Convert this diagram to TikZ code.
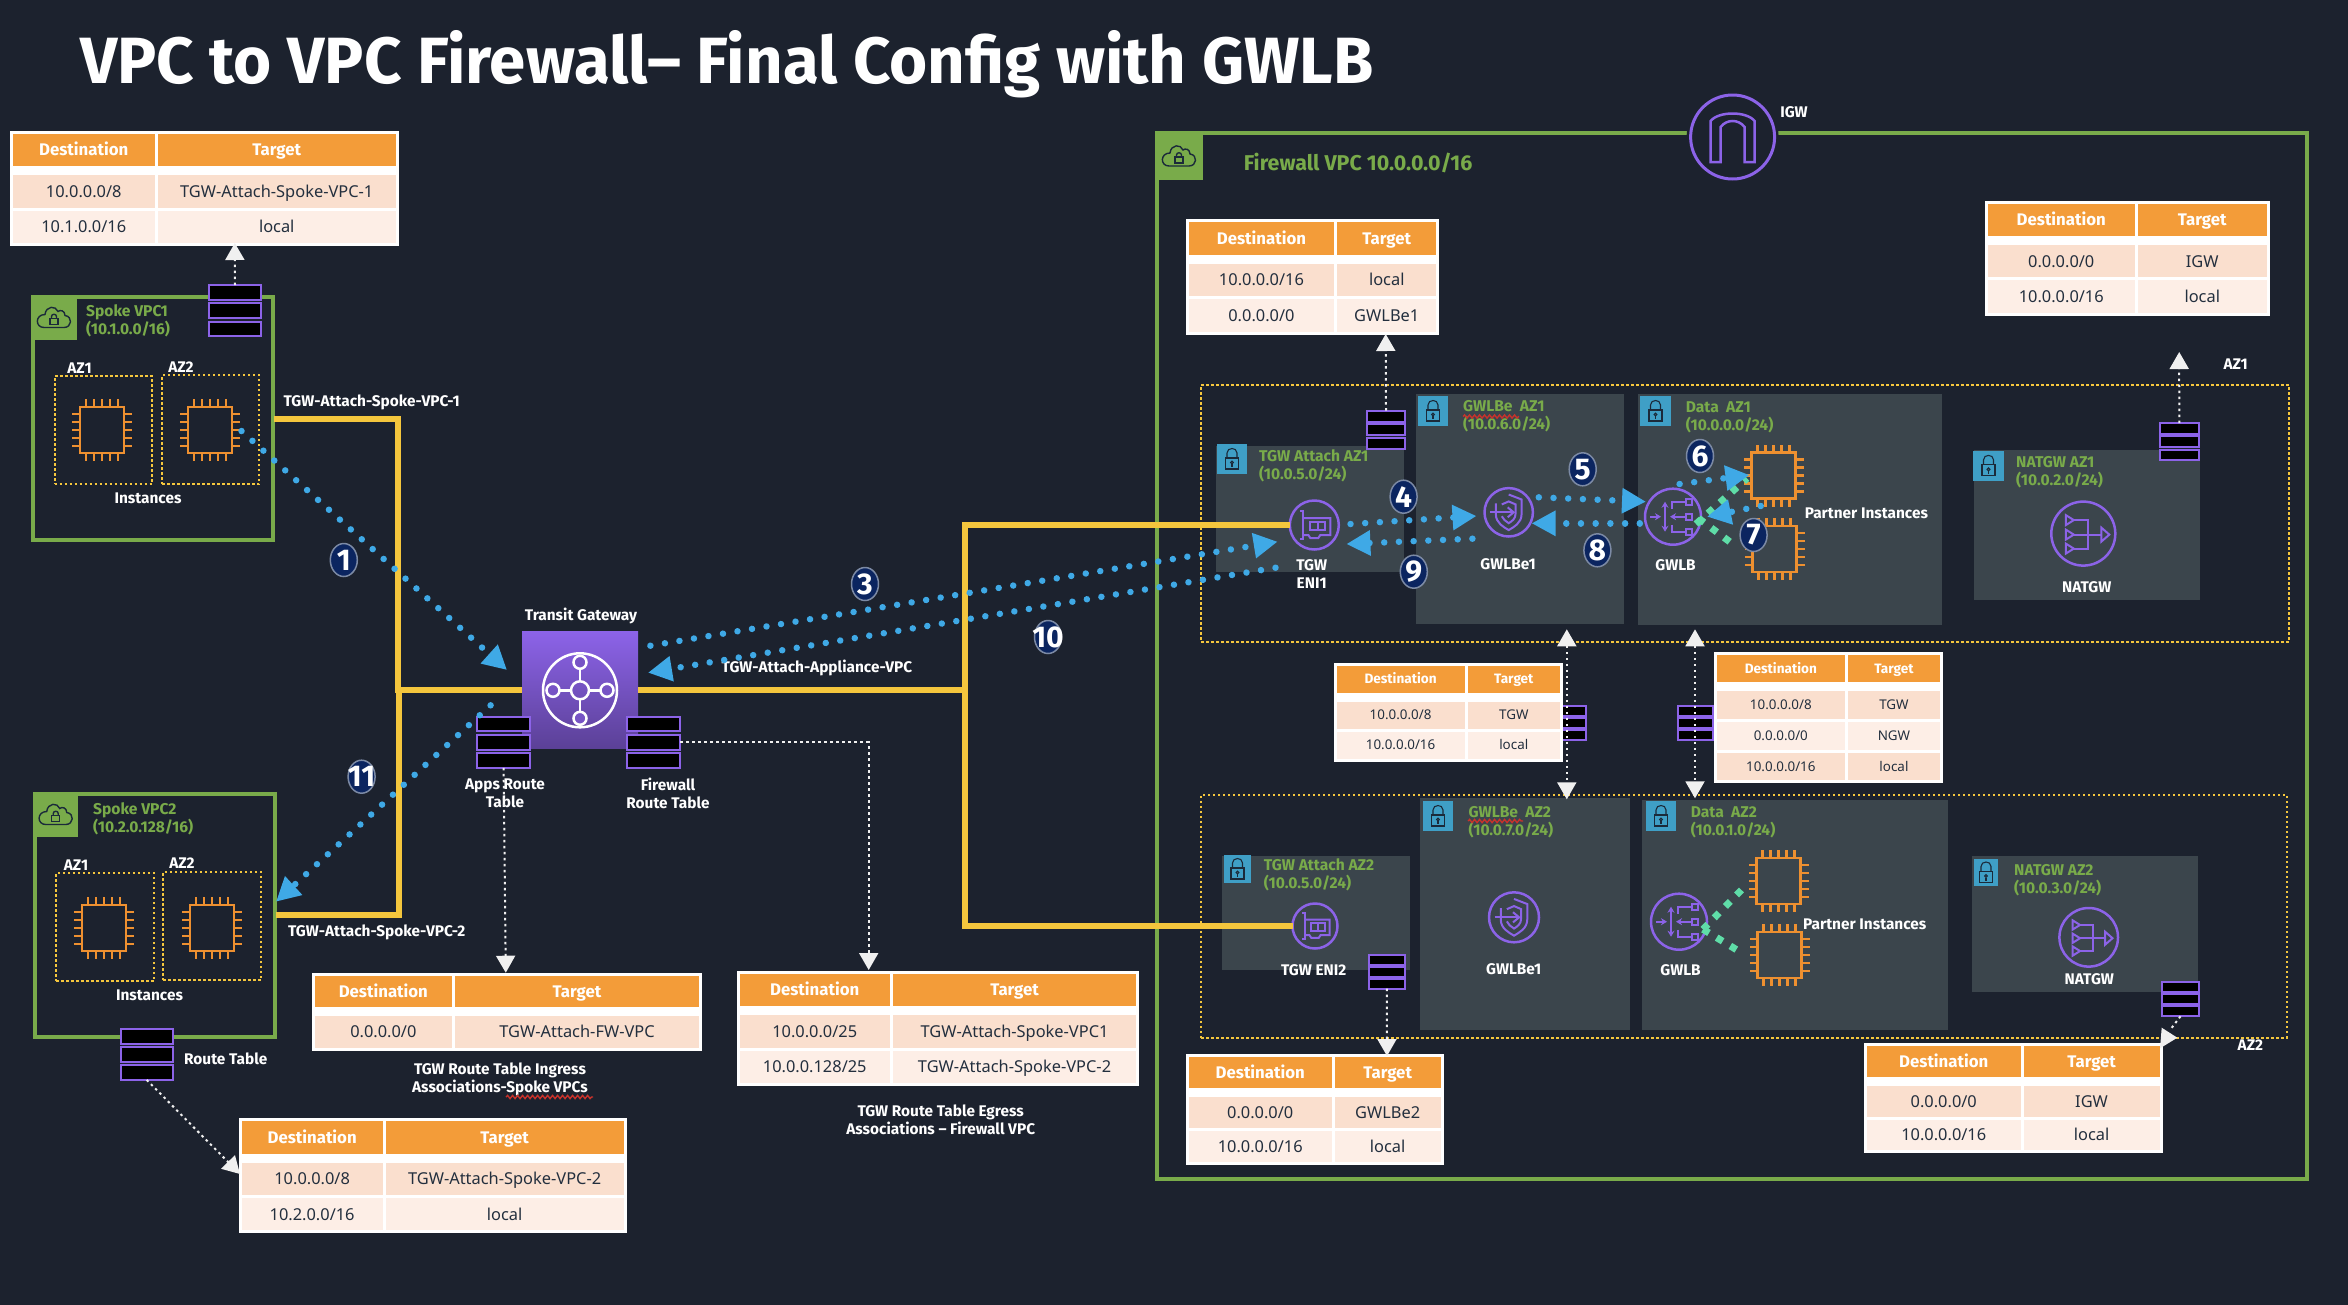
\documentclass[tikz,border=0pt]{standalone}
\usepackage{fontspec}
\setmainfont{Noto Sans}
\newfontfamily\bfam{Fira Sans}
\newcommand\bff{\bfam\bfseries}
\usetikzlibrary{arrows.meta,shapes.geometric,decorations.pathmorphing}
\definecolor{bgc}{HTML}{1C222E}
\definecolor{vpcg}{HTML}{79AB4A}
\definecolor{subg}{HTML}{3B454C}
\definecolor{lockb}{HTML}{3F9FC6}
\definecolor{lockd}{HTML}{1B2A3A}
\definecolor{purp}{HTML}{8C63E8}
\definecolor{ylw}{HTML}{F4C63D}
\definecolor{orng}{HTML}{F39C39}
\definecolor{chipo}{HTML}{EE9030}
\definecolor{rowa}{HTML}{FADFCE}
\definecolor{rowb}{HTML}{FDEEE6}
\definecolor{txt}{HTML}{232F3E}
\definecolor{blu}{HTML}{3FA9E6}
\definecolor{grn}{HTML}{5FDDA8}
\definecolor{navy}{HTML}{0B2560}
\definecolor{badgeo}{HTML}{7C8AA5}
\definecolor{wtip}{HTML}{F0F0F0}
\definecolor{redw}{HTML}{C8322B}
\tikzset{
 lbl/.style={text=white,font=\bff\fontsize{15.4}{18}\selectfont,inner sep=0pt,align=center},
 sublbl/.style={text=vpcg,font=\bff\fontsize{15.6}{18}\selectfont,inner sep=0pt,align=left,anchor=west},
 yl/.style={draw=ylw,line width=6pt},
 vpcbox/.style={draw=vpcg,line width=4pt},
 azbox/.style={draw=ylw,line width=2pt,dash pattern=on 2.5pt off 2.5pt},
 subnetbox/.style={fill=subg},
 rtbcell/.style={draw=purp,fill=black,line width=2pt},
 picon/.style={draw=purp,line width=2.5pt,circle,inner sep=0pt,outer sep=0pt},
 pline/.style={draw=purp,line width=2pt},
 chipline/.style={draw=chipo,line width=2.5pt},
 wdot/.style={draw=wtip,line width=2pt,dash pattern=on 2.5pt off 3.5pt,-{Triangle[length=17pt,width=19pt,fill=wtip]}},
 wdbl/.style={draw=wtip,line width=2pt,dash pattern=on 2.5pt off 3.5pt,{Triangle[length=17pt,width=19pt,fill=wtip]}-{Triangle[length=17pt,width=19pt,fill=wtip]}},
 wdotp/.style={draw=wtip,line width=2pt,dash pattern=on 2.5pt off 3.5pt},
 bdot/.style={draw=blu,line width=6.5pt,line cap=round,dash pattern=on 0.01pt off 14.7pt,-{Triangle[length=24pt,width=24pt,fill=blu]}},
 gdot/.style={draw=grn,line width=7pt,dash pattern=on 7pt off 9pt},
 wavy/.style={draw=redw,line width=1.4pt,decorate,decoration={snake,segment length=5pt,amplitude=1.6pt}},
 cellbase/.style={anchor=north west,inner sep=0pt,outer sep=0pt,text depth=0pt},
}
\newcommand\rnode[6]{%
 \pgfmathsetmacro\rw{#4-#2}\pgfmathsetmacro\rh{#5-#3}%
 \node[#6,minimum width=\rw pt,minimum height=\rh pt,inner sep=0pt,outer sep=0pt,anchor=north west] (#1) at (#2,#3) {};}
% table: name xl xs xr yt yb nrows regular-size bold-size
\newcommand\rtab[9]{%
 \def\tN{#1}\def\tL{#2}\def\tS{#3}\def\tRt{#4}\def\tFs{#8}%
 \rnode{#1}{#2}{#5}{#4}{#6}{fill=white}%
 \pgfmathsetmacro\tR{(#6-#5-15-(#7-1)*3)/(#7+1)}%
 \pgfmathsetmacro\wa{#3-1.5-#2-3}\pgfmathsetmacro\wb{#4-3-#3-1.5}%
 \pgfmathsetmacro\xa{#2+3}\pgfmathsetmacro\xb{#3+1.5}\pgfmathsetmacro\yh{#5+3}%
 \pgfmathsetmacro\tHh{0.69*#9}\pgfmathsetmacro\tHr{0.714*#8}%
 \node[cellbase,fill=orng,text=white,minimum width=\wa pt,minimum height=\tR pt,text height=\tHh pt,font=\bff\fontsize{#9}{#9}\selectfont] (#1h1) at (\xa,\yh) {Destination};
 \node[cellbase,fill=orng,text=white,minimum width=\wb pt,minimum height=\tR pt,text height=\tHh pt,font=\bff\fontsize{#9}{#9}\selectfont] (#1h2) at (\xb,\yh) {Target};
 \pgfmathsetmacro\tY{#5+3+\tR+9}\def\tI{1}}
\newcommand\trow[3]{%
 \node[cellbase,fill=#1,text=txt,minimum width=\wa pt,minimum height=\tR pt,text height=\tHr pt,font=\fontsize{\tFs}{\tFs}\selectfont] (\tN r\tI a) at (\xa,\tY) {#2};
 \node[cellbase,fill=#1,text=txt,minimum width=\wb pt,minimum height=\tR pt,text height=\tHr pt,font=\fontsize{\tFs}{\tFs}\selectfont] (\tN r\tI b) at (\xb,\tY) {#3};
 \pgfmathsetmacro\tY{\tY+\tR+3}\pgfmathtruncatemacro\tI{\tI+1}}
% three-cell route table icon
\newcommand\rtb[6]{%
 \pgfmathsetmacro\ra{#2+#4}\pgfmathsetmacro\rb{#3+#5}\rnode{#11}{#2}{#3}{\ra}{\rb}{rtbcell}%
 \pgfmathsetmacro\rc{#3+#6}\pgfmathsetmacro\rd{\rc+#5}\rnode{#12}{#2}{\rc}{\ra}{\rd}{rtbcell}%
 \pgfmathsetmacro\re{#3+2*#6}\pgfmathsetmacro\rf{\re+#5}\rnode{#13}{#2}{\re}{\ra}{\rf}{rtbcell}}
\newcommand\chip[3]{%
 \node[chipline,minimum width=44pt,minimum height=46pt,inner sep=0pt,outer sep=0pt] (#1) at (#2,#3) {};
 \begin{scope}[shift={(#2,#3)}]
 \foreach \d in {-16,-8,0,8,16}{
  \draw[chipline] (\d,-23)--(\d,-31); \draw[chipline] (\d,23)--(\d,31);
  \draw[chipline] (-22,\d)--(-30,\d); \draw[chipline] (22,\d)--(30,\d);}
 \end{scope}}
\newcommand\lockbox[5]{%
 \rnode{#1}{#2}{#3}{#4}{#5}{fill=lockb}%
 \begin{scope}[shift={(#1.center)},draw=lockd,line width=1.1pt]
 \draw (-6.5,-1) rectangle (6.5,10);
 \draw (-5,-1) -- (-5,-6) .. controls (-5,-12) and (5,-12) .. (5,-6) -- (5,-1);
 \draw (0,3.5) circle[radius=1.4pt]; \draw (0,5)--(0,8);
 \end{scope}}
\newcommand\cloudbox[5]{%
 \rnode{#1}{#2}{#3}{#4}{#5}{fill=vpcg}%
 \begin{scope}[shift={(#1.center)},line width=1.4pt,draw=lockd]
 \draw (-10,10) -- (10,10) .. controls (18,10) and (19,-1) .. (11,-2) .. controls (11,-7) and (6,-8) .. (4,-6) .. controls (2,-12) and (-8,-12) .. (-9,-3) .. controls (-19,-3) and (-19,10) .. (-10,10) -- cycle;
 \draw (-4,1) rectangle (4,7);
 \draw (-2.5,1) -- (-2.5,-1) .. controls (-2.5,-4) and (2.5,-4) .. (2.5,-1) -- (2.5,1);
 \end{scope}}
\newcommand\eniicon[4]{%
 \node[picon,minimum size=#4 pt] (#1) at (#2,#3) {};
 \pgfmathsetmacro\sc{#4/49}%
 \begin{scope}[shift={(#2,#3)},scale=\sc]
 \draw[pline] (-14,-14) -- (-11,-14) -- (-11,14) -- (-14,14);
 \draw[pline] (-11,-7) -- (16,-7) -- (16,10) -- (6,10) -- (4,13) -- (-4,13) -- (-6,10) -- (-11,10);
 \draw[pline] (-4,-3) rectangle (11,5); \draw[pline] (3.5,-3) -- (3.5,5);
 \end{scope}}
\newcommand\gwlbeicon[4]{%
 \node[picon,minimum size=#4 pt] (#1) at (#2,#3) {};
 \pgfmathsetmacro\sc{#4/49}%
 \begin{scope}[shift={(#2,#3)},scale=\sc]
 \draw[pline] (0,-18) -- (13,-13) -- (13,2) .. controls (13,11) and (5,15) .. (0,18) .. controls (-5,15) and (-13,11) .. (-13,2) -- (-13,-9);
 \draw[pline] (-7,-8) -- (0,-11) -- (7,-8) -- (7,1) .. controls (7,7) and (3,9) .. (0,11) .. controls (-3,9) and (-6,7) .. (-7,4);
 \draw[pline] (-19,0) -- (5,0); \draw[pline] (-1,-5) -- (5,0) -- (-1,5);
 \end{scope}}
\newcommand\gwlbicon[4]{%
 \node[picon,minimum size=#4 pt] (#1) at (#2,#3) {};
 \pgfmathsetmacro\sc{#4/56}%
 \begin{scope}[shift={(#2,#3)},scale=\sc]
 \draw[pline,-{Stealth[length=6pt,width=7pt]}] (-23,0) -- (-12,0);
 \draw[pline,{Stealth[length=6pt,width=7pt]}-{Stealth[length=6pt,width=7pt]}] (-8,-15) -- (-8,15);
 \draw[pline,-{Stealth[length=6pt,width=7pt]}] (13,0) -- (-3,0);
 \draw[pline] (-1,-8) -- (-1,-15) -- (13,-15); \draw[pline] (-1,8) -- (-1,15) -- (13,15);
 \foreach \yy in {-15,0,15}{\draw[pline] (13,\yy-3) rectangle (19,\yy+3);}
 \end{scope}}
\newcommand\natgwicon[4]{%
 \node[picon,minimum size=#4 pt] (#1) at (#2,#3) {};
 \pgfmathsetmacro\sc{#4/64}%
 \begin{scope}[shift={(#2,#3)},scale=\sc]
 \foreach \yy in {-13.5,1,15}{\draw[pline] (-17.5,\yy-5) -- (-9.5,\yy) -- (-17.5,\yy+5) -- cycle;}
 \draw[pline] (-9,-13.5) -- (5,-13.5) -- (5,15) -- (-9,15);
 \draw[pline] (-9,1) -- (18,1);
 \draw[pline] (18,-6) -- (26,1) -- (18,8) -- cycle;
 \end{scope}}
\newcommand\badge[4]{%
 \node[ellipse,draw=badgeo,fill=navy,line width=1.5pt,minimum width=27pt,minimum height=33pt,inner sep=0pt,label={[text=white,font=\bff\fontsize{30}{30}\selectfont,inner sep=0pt]center:#4}] (#1) at (#2,#3) {};}
\begin{document}
\begin{tikzpicture}[x=1pt,y=-1pt]
\useasboundingbox (0,0) rectangle (2348,1304);
\fill[bgc] (-6,-6) rectangle (2354,1310);
\node[anchor=west,text=white,inner sep=0pt,font=\bff\fontsize{65.4}{68}\selectfont] (title) at (80,64) {VPC to VPC Firewall– Final Config with GWLB};

% ---------- Spoke VPC1
\rnode{vpca}{32.5}{297}{272.5}{540}{vpcbox}
\cloudbox{vpcah}{31}{295}{77}{340}
\node[sublbl] (vpcat) at (86,321) {Spoke VPC1\\(10.1.0.0/16)};
\rnode{azaa}{54.5}{376}{152}{484}{azbox}
\rnode{azab}{162}{375}{259}{484}{azbox}
\node[lbl] (azaal) at (79.5,368) {AZ1};
\node[lbl] (azabl) at (181,367) {AZ2};
\chip{chipaa}{102}{430}
\chip{chipab}{210}{430}
\node[lbl] (insta) at (148,498) {Instances};
\rtb{rta}{209}{285}{52}{14.5}{18.3}

% ---------- Spoke VPC2
\rnode{vpcb}{35}{794}{274.5}{1037}{vpcbox}
\cloudbox{vpcbh}{33.5}{792}{78}{837}
\node[sublbl] (vpcbt) at (93,819) {Spoke VPC2\\(10.2.0.128/16)};
\rnode{azba}{56}{873}{154}{981}{azbox}
\rnode{azbb}{163}{872}{261}{980}{azbox}
\node[lbl] (azbal) at (76,865) {AZ1};
\node[lbl] (azbbl) at (182,863) {AZ2};
\chip{chipba}{104}{928}
\chip{chipbb}{212}{928}
\node[lbl] (instb) at (149.5,995) {Instances};
\rtb{rtb}{120.5}{1029}{52.5}{14.5}{18.2}
\node[lbl,anchor=west] (rtblbl) at (184,1059) {Route Table};

% ---------- Firewall VPC
\rnode{fw}{1156.7}{133.3}{2306.7}{1179.3}{vpcbox}
\cloudbox{fwh}{1155}{132}{1203}{180}
\node[anchor=west,inner sep=0pt,text=vpcg,font=\bff\fontsize{21.4}{24}\selectfont] (fwt) at (1243.7,162.7) {Firewall VPC 10.0.0.0/16};
\fill[bgc] (1732.6,137) circle[radius=46pt];
\node[picon,minimum size=84pt,line width=3pt] (igw) at (1732.6,137) {};
\begin{scope}[shift={(igw.center)}]
\draw[draw=purp,line width=2.5pt] (-22,25) -- (-22,-16) .. controls (-14,-26) and (14,-26) .. (22,-16) -- (22,25) -- (12,25) -- (12,-10) .. controls (6,-18) and (-6,-18) .. (-12,-10) -- (-12,25) -- cycle;
\end{scope}
\node[lbl] (igwl) at (1794,112) {IGW};

% AZ boxes
\rnode{azf}{1201}{385}{2289}{641.7}{azbox}
\rnode{azg}{1201}{795}{2286.7}{1037.7}{azbox}
\node[lbl] (azfl) at (2235.7,364.6) {AZ1};
\node[lbl] (azgl) at (2250.3,1045) {AZ2};

% Subnets AZ1
\rnode{sa}{1216.3}{446}{1404}{571.7}{subnetbox}
\lockbox{lka}{1217}{444}{1247}{474}
\node[sublbl] (sat) at (1259,466) {TGW Attach AZ1\\(10.0.5.0/24)};
\rnode{sb}{1415.8}{394}{1624}{624}{subnetbox}
\lockbox{lkb}{1418}{396}{1448}{426}
\node[sublbl] (sbt) at (1462.8,416) {GWLBe\ \ AZ1\\(10.0.6.0/24)};
\rnode{sc}{1637.8}{394}{1941.8}{625}{subnetbox}
\lockbox{lkc}{1640}{396}{1671}{426}
\node[sublbl] (sct) at (1685.7,417) {Data\ \ AZ1\\(10.0.0.0/24)};
\rnode{sd}{1974}{450}{2200}{599.6}{subnetbox}
\lockbox{lkd}{1973}{451}{2004}{480.7}
\node[sublbl] (sdt) at (2016,472) {NATGW AZ1\\(10.0.2.0/24)};
\draw[wavy] (1463,416.5) -- (1519,416.5);

% Subnets AZ2
\rnode{se}{1221.8}{856}{1409.6}{970}{subnetbox}
\lockbox{lke}{1224}{855}{1251}{883}
\node[sublbl] (set) at (1263.7,875) {TGW Attach AZ2\\(10.0.5.0/24)};
\rnode{sf}{1419.8}{798.3}{1630}{1030}{subnetbox}
\lockbox{lkf}{1423}{801}{1453}{831}
\node[sublbl] (sft) at (1468.3,822) {GWLBe\ \ AZ2\\(10.0.7.0/24)};
\rnode{sg}{1642}{800}{1948}{1030}{subnetbox}
\lockbox{lkg}{1646}{801}{1676}{831}
\node[sublbl] (sgt) at (1690.7,822) {Data\ \ AZ2\\(10.0.1.0/24)};
\rnode{sh}{1972}{856}{2198}{992}{subnetbox}
\lockbox{lkh}{1974}{859}{1998}{886}
\node[sublbl] (sht) at (2014,880) {NATGW AZ2\\(10.0.3.0/24)};
\draw[wavy] (1468,821) -- (1523,821);

% ---------- route tables (some tucked under the tables)
\rtb{rtc}{1367}{410.7}{38}{11}{13.5}
\rtb{rtd}{1549}{705.7}{37}{10}{12.3}
\rtb{rte}{1677.6}{705.7}{35.2}{10}{12.2}
\rtb{rtf}{2159.5}{423}{39.5}{10.5}{13.3}
\rtb{rtg}{1369.3}{954.7}{35.2}{9.8}{12}
\rtb{rth}{2162.3}{981.7}{36.4}{10}{12.3}

% ---------- tables
\rtab{ta}{10}{156}{399}{130.7}{246}{2}{16.4}{16.8}
\trow{rowa}{10.0.0.0/8}{TGW-Attach-Spoke-VPC-1}
\trow{rowb}{10.1.0.0/16}{local}
\rtab{tb}{1185.7}{1335.7}{1439.3}{219.3}{334.7}{2}{16.4}{16.8}
\trow{rowa}{10.0.0.0/16}{local}
\trow{rowb}{0.0.0.0/0}{GWLBe1}
\rtab{tc}{1985}{2136}{2270}{200.7}{315.7}{2}{16.4}{16.8}
\trow{rowa}{0.0.0.0/0}{IGW}
\trow{rowb}{10.0.0.0/16}{local}
\rtab{td}{1333.7}{1466}{1563}{662.7}{761.7}{2}{13.4}{13.6}
\trow{rowa}{10.0.0.0/8}{TGW}
\trow{rowb}{10.0.0.0/16}{local}
\rtab{te}{1713.8}{1846.4}{1943}{651.7}{783.3}{3}{13.4}{13.6}
\trow{rowa}{10.0.0.0/8}{TGW}
\trow{rowb}{0.0.0.0/0}{NGW}
\trow{rowa}{10.0.0.0/16}{local}
\rtab{tf}{1186}{1333}{1443.8}{1054.3}{1165}{2}{16.4}{16.8}
\trow{rowa}{0.0.0.0/0}{GWLBe2}
\trow{rowb}{10.0.0.0/16}{local}
\rtab{tg}{1864}{2022}{2162.7}{1043.3}{1153.3}{2}{16.4}{16.8}
\trow{rowa}{0.0.0.0/0}{IGW}
\trow{rowb}{10.0.0.0/16}{local}
\rtab{th}{311.6}{453.6}{702}{972.7}{1050.7}{1}{16.4}{16.8}
\trow{rowa}{0.0.0.0/0}{TGW-Attach-FW-VPC}
\rtab{ti}{238.8}{384}{626.8}{1118.3}{1233.3}{2}{16.4}{16.8}
\trow{rowa}{10.0.0.0/8}{TGW-Attach-Spoke-VPC-2}
\trow{rowb}{10.2.0.0/16}{local}
\rtab{tj}{736.7}{891.3}{1139.3}{970.7}{1086}{2}{16.4}{16.8}
\trow{rowa}{10.0.0.0/25}{TGW-Attach-Spoke-VPC1}
\trow{rowb}{10.0.0.128/25}{TGW-Attach-Spoke-VPC-2}

% ---------- Transit gateway
\node[top color=purp,bottom color=purp!65!black,minimum width=116pt,minimum height=117pt,inner sep=0pt,outer sep=0pt] (tgw) at (580,690.3) {};
\begin{scope}[shift={(tgw.center)},draw=white,line width=2.5pt]
\draw (0,0) circle[radius=37pt];
\draw (0,0) circle[radius=9pt];
\foreach \dx/\dy in {27/0,-27/0,0/28,0/-28}{\draw[fill=purp!85!black] (\dx,\dy) circle[radius=6.5pt];}
\draw (9,0)--(20.5,0); \draw (-9,0)--(-20.5,0); \draw (0,9)--(0,21.5); \draw (0,-9)--(0,-21.5);
\end{scope}
\node[lbl] (tgwl) at (581,616) {Transit Gateway};
\rtb{rti}{476.8}{716.7}{53.6}{14.6}{18.3}
\rtb{rtj}{626.8}{716.7}{53.6}{14.6}{18.3}
\node[lbl] (rtil) at (505,793) {Apps Route\\Table};
\node[lbl] (rtjl) at (668,793) {Firewall\\Route Table};

% ---------- yellow links
\coordinate (ya) at (274,418.5);
\coordinate (yb) at (397.5,418.5);
\coordinate (yc) at (276,915);
\coordinate (yd) at (398.5,915);
\coordinate (yj) at (965,690.3);
\eniicon{enia}{1314.3}{525}{49}
\eniicon{enib}{1315}{926}{45}
\draw[yl] (ya) -- (yb) |- (tgw.west);
\draw[yl] (yc) -- (yd) |- (tgw.west);
\draw[yl] (tgw.east) -- (yj);
\draw[yl] (enia.west) -| (yj);
\draw[yl] (enib.west) -| (yj);
\node[lbl,anchor=west] (ylba) at (283.5,402) {TGW-Attach-Spoke-VPC-1};
\node[lbl,anchor=west] (ylbb) at (288,932.7) {TGW-Attach-Spoke-VPC-2};

% ---------- other icons
\node[lbl] (enial) at (1311.7,574) {TGW\\ENI1};
\node[lbl] (enibl) at (1313.7,970) {TGW ENI2};
\gwlbeicon{gea}{1508.7}{512.3}{48.4}
\node[lbl] (geal) at (1508,564) {GWLBe1};
\gwlbeicon{geb}{1514}{917.3}{50}
\node[lbl] (gebl) at (1513.7,969) {GWLBe1};
\gwlbicon{gwa}{1673}{516.7}{56}
\node[lbl] (gwal) at (1675.5,565) {GWLB};
\gwlbicon{gwb}{1679}{921.7}{56}
\node[lbl] (gwbl) at (1680.5,970) {GWLB};
\chip{chipca}{1773.5}{475.7}
\chip{chipcb}{1774.5}{549}
\chip{chipda}{1778.5}{881}
\chip{chipdb}{1779.5}{955}
\node[lbl,anchor=west] (pia) at (1804.6,513.3) {Partner Instances};
\node[lbl,anchor=west] (pib) at (1803,924) {Partner Instances};
\natgwicon{nata}{2083.3}{533.6}{64}
\node[lbl] (natal) at (2086.7,587) {NATGW};
\natgwicon{natb}{2088.7}{937.3}{58.6}
\node[lbl] (natbl) at (2089.3,979) {NATGW};

% ---------- white dotted connectors
\coordinate (wa) at (234.8,243);
\draw[wdot] (rta1.north) -- (wa);
\coordinate (wb) at (1385.7,334);
\draw[wdot] (rtc1.north) -- (wb);
\coordinate (wc) at (2179.2,352);
\draw[wdot] (rtf1.north) -- (wc);
\coordinate (wd) at (1387,1056);
\draw[wdot] (rtg3.south) -- (wd);
\coordinate (we) at (505.8,972.7);
\draw[wdot] (rti3.south) -- (we);
\coordinate (wf) at (868.7,970);
\draw[wdot] (rtj2.east) -| (wf);
\coordinate (wg) at (240,1174);
\draw[wdot] (rtb3.south) -- (wg);
\coordinate (wha) at (1566.8,629.3);
\coordinate (whb) at (1566.8,799.3);
\draw[wdbl] (wha) -- (whb);
\coordinate (wia) at (1695,629.3);
\coordinate (wib) at (1695,798.3);
\draw[wdbl] (wia) -- (wib);
\coordinate (wj) at (2170,1030);
\draw[wdotp] (rth3.south) -- (wj);
\fill[wtip] (2161.7,1027.7) -- (2177.3,1037.7) -- (2160,1048.3) -- cycle;

\node[lbl] (tgwa) at (817,668) {TGW-Attach-Appliance-VPC};
\node[lbl] (capa) at (500,1079) {TGW Route Table Ingress\\Associations-Spoke VPCs};
\draw[wavy] (506,1097) -- (593,1097);
\node[lbl] (capb) at (940.7,1120) {TGW Route Table Egress\\Associations – Firewall VPC};

% ---------- green dotted
\coordinate (ga) at (1696,524);
\coordinate (gb) at (1747,478.3);
\coordinate (gc) at (1698.5,518.3);
\coordinate (gd) at (1734,545);
\draw[gdot] (ga) -- (gb);
\draw[gdot] (gc) -- (gd);
\coordinate (ge) at (1703,929.3);
\coordinate (gf) at (1746.3,885);
\coordinate (gg) at (1737,950);
\draw[gdot] (ge) -- (gf);
\draw[gdot] (ge) -- (gg);

% ---------- blue flows
\coordinate (bas) at (241.5,431); \coordinate (bae) at (507,670);
\draw[bdot] (bas) -- (bae);
\coordinate (bcs) at (650.4,645.7); \coordinate (bce) at (1277.6,541.7);
\draw[bdot] (bcs) -- (bce);
\coordinate (bjs) at (1275.5,567.7); \coordinate (bje) at (648,672.7);
\draw[bdot] (bjs) -- (bje);
\coordinate (bds) at (1350.5,524); \coordinate (bde) at (1476.5,516);
\draw[bdot] (bds) -- (bde);
\coordinate (bes) at (1538.8,497.3); \coordinate (bee) at (1646,501.7);
\draw[bdot] (bes) -- (bee);
\coordinate (bfs) at (1679.6,484); \coordinate (bfe) at (1749.5,475);
\draw[bdot] (bfs) -- (bfe);
\coordinate (bgs) at (1760.7,506); \coordinate (bge) at (1707,516.7);
\draw[bdot] (bgs) -- (bge);
\coordinate (bhs) at (1639.8,523.3); \coordinate (bhe) at (1531.6,523.3);
\draw[bdot] (bhs) -- (bhe);
\coordinate (bis) at (1472.4,538.7); \coordinate (bie) at (1346.4,544);
\draw[bdot] (bis) -- (bie);
\coordinate (bks) at (490.6,705.3); \coordinate (bke) at (276,901.7);
\draw[bdot] (bks) -- (bke);

% ---------- number badges
\badge{ba}{343.8}{560}{1}
\badge{bc}{865}{584}{3}
\badge{bj}{1048}{637}{10}
\badge{bk}{361.6}{776.7}{11}
\badge{bd}{1403.6}{496.7}{4}
\badge{be}{1582.7}{469.3}{5}
\badge{bf}{1700}{456}{6}
\badge{bg}{1753.6}{535}{7}
\badge{bh}{1597.4}{550.3}{8}
\badge{bi}{1413.8}{571.7}{9}
\end{tikzpicture}
\end{document}
